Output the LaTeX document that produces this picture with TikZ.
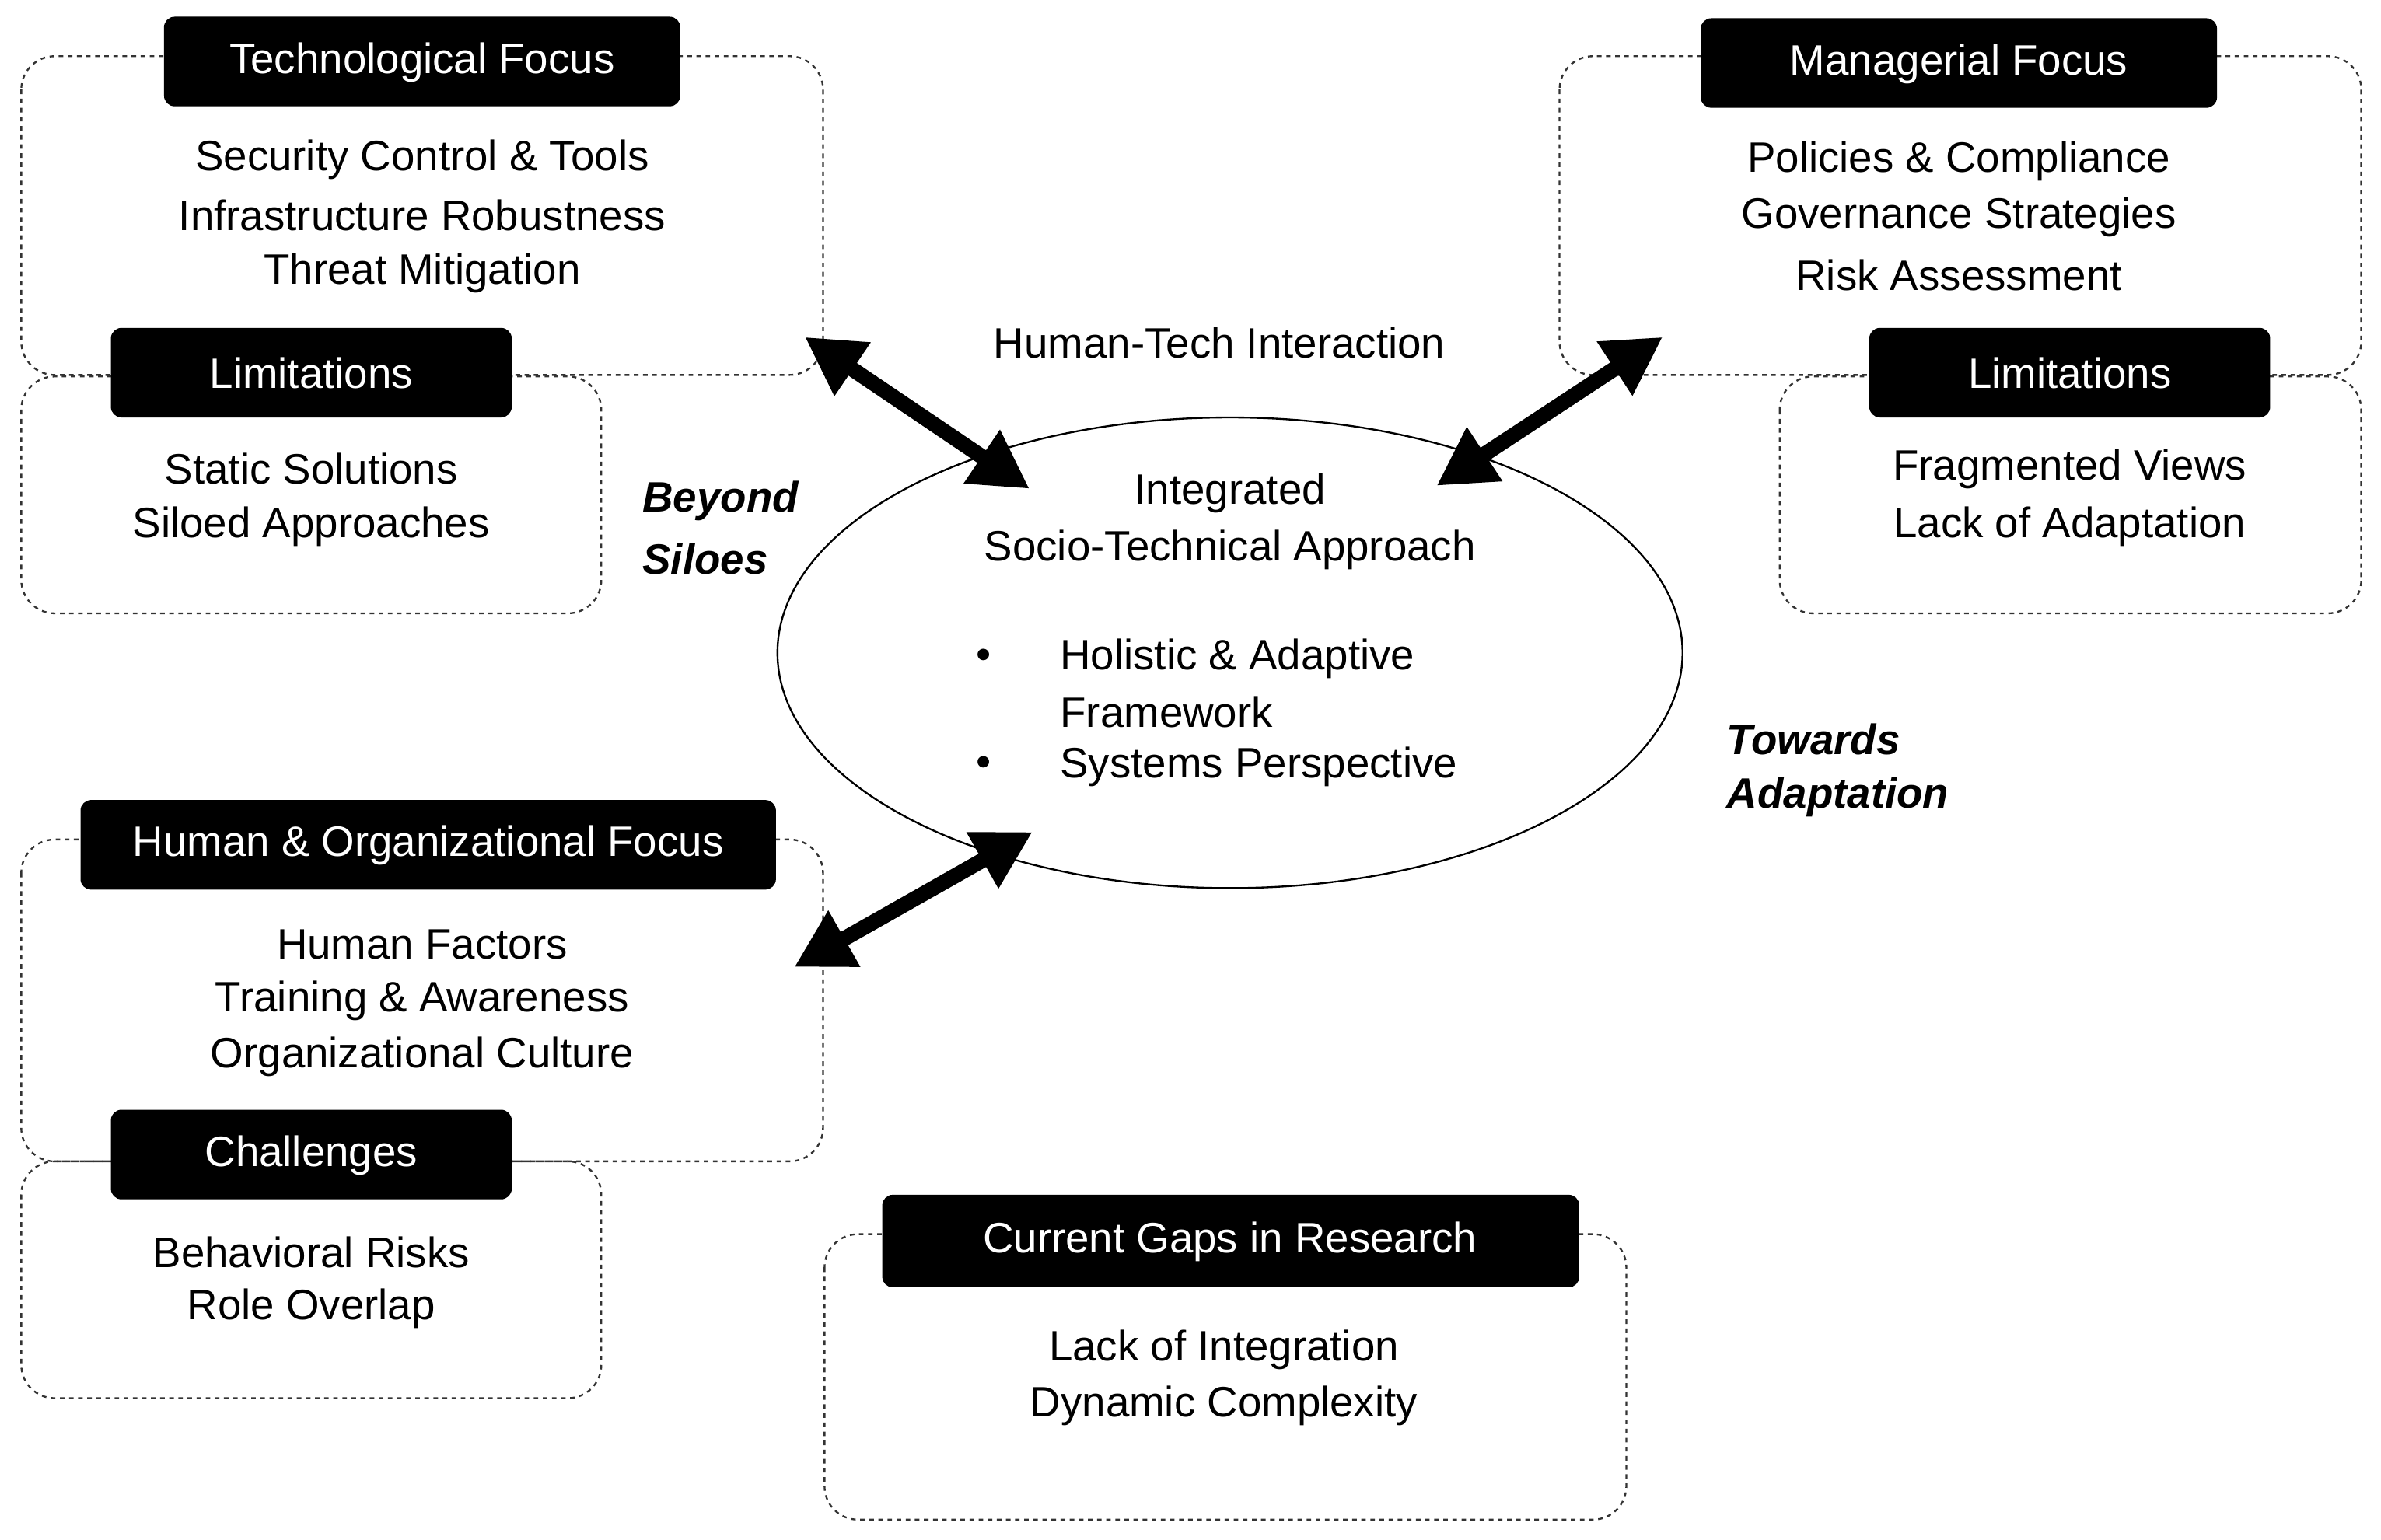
\documentclass[tikz,border=0pt]{standalone}
\usepackage{fontspec}
\setmainfont{Liberation Sans}
\usetikzlibrary{arrows.meta}
\begin{document}
\begin{tikzpicture}[x=1pt,y=-1pt,
  dbox/.style={draw=black!80,dashed,line width=1.2pt,rounded corners=22pt},
  hdr/.style={fill=black,text=white,rounded corners=7pt,font=\fontsize{28}{30}\selectfont,anchor=center},
  txt/.style={font=\fontsize{28}{30}\selectfont,inner sep=0pt},
  lab/.style={font=\fontsize{28}{30}\selectfont\bfseries\itshape,inner sep=0pt,anchor=west},
  arr/.style={{Triangle[length=38pt,width=40pt]}-{Triangle[length=38pt,width=40pt]},line width=10pt}]
\useasboundingbox (0,0) rectangle (1568,1014);
% boxes
\draw[dbox] (14,37) rectangle (542,247);
\draw[dbox] (14,248) rectangle (396,404);
\draw[dbox] (1027,37) rectangle (1555,247);
\draw[dbox] (1172,248) rectangle (1555,404);
\draw[dbox] (14,553) rectangle (542,765);
\draw[dbox] (14,765) rectangle (396,921);
\draw[dbox] (543,813) rectangle (1071,1001);
% headers
\fill[rounded corners=7pt] (108,11) rectangle (448,70); \node[txt,text=white] (h1) at (278,41) {Technological Focus};
\fill[rounded corners=7pt] (73,216) rectangle (337,275); \node[txt,text=white] (h2) at (205,246) {Limitations};
\fill[rounded corners=7pt] (1120,12) rectangle (1460,71); \node[txt,text=white] (h3) at (1290,42) {Managerial Focus};
\fill[rounded corners=7pt] (1231,216) rectangle (1495,275); \node[txt,text=white] (h4) at (1363,246) {Limitations};
\fill[rounded corners=7pt] (53,527) rectangle (511,586); \node[txt,text=white] (h5) at (282,557) {Human \& Organizational Focus};
\fill[rounded corners=7pt] (73,731) rectangle (337,790); \node[txt,text=white] (h6) at (205,761) {Challenges};
\fill[rounded corners=7pt] (581,787) rectangle (1040,848); \node[txt,text=white] (h7) at (810,818) {Current Gaps in Research};
% texts
\node[txt] (t1) at (278,105) {Security Control \& Tools};
\node[txt] (t2) at (278,142) {Infrastructure Robustness};
\node[txt] (t3) at (278,180) {Threat Mitigation};
\node[txt] (t4) at (205,309) {Static Solutions};
\node[txt] (t5) at (205,347) {Siloed Approaches};
\node[txt] (t6) at (1290,106) {Policies \& Compliance};
\node[txt] (t7) at (1290,143) {Governance Strategies};
\node[txt] (t8) at (1290,181) {Risk Assessment};
\node[txt] (t9) at (1363,309) {Fragmented Views};
\node[txt] (t10) at (1363,347) {Lack of Adaptation};
\node[txt] (t11) at (278,622) {Human Factors};
\node[txt] (t12) at (278,659) {Training \& Awareness};
\node[txt] (t13) at (278,696) {Organizational Culture};
\node[txt] (t14) at (205,825) {Behavioral Risks};
\node[txt] (t15) at (205,862) {Role Overlap};
\node[txt] (t16) at (806,889) {Lack of Integration};
\node[txt] (t17) at (806,926) {Dynamic Complexity};
% ellipse
\draw[line width=1.2pt] (810,430) ellipse [x radius=298, y radius=155];
\node[txt] (e1) at (810,325) {Integrated};
\node[txt] (e2) at (810,362) {Socio-Technical Approach};
\node[txt] (b1) at (648,434) {\textbullet};
\node[txt] (b2) at (648,505) {\textbullet};
\node[txt,anchor=west] (e3) at (698,434) {Holistic \& Adaptive};
\node[txt,anchor=west] (e4) at (698,469) {Framework};
\node[txt,anchor=west] (e5) at (698,505) {Systems Perspective};
\node[txt] (hti) at (803,226) {Human-Tech Interaction};
\node[lab] (bs1) at (423,330) {Beyond};
\node[lab] (bs2) at (423,368) {Siloes};
\node[lab] (ta1) at (1137,487) {Towards};
\node[lab] (ta2) at (1137,525) {Adaptation};
% arrows
\coordinate (a1) at (530,222); \coordinate (a2) at (678,322);
\coordinate (a3) at (1095,222); \coordinate (a4) at (946,320);
\coordinate (a5) at (523,637); \coordinate (a6) at (680,548);
\draw[arr] (a1) -- (a2);
\draw[arr] (a3) -- (a4);
\draw[arr] (a5) -- (a6);
\end{tikzpicture}
\end{document}
